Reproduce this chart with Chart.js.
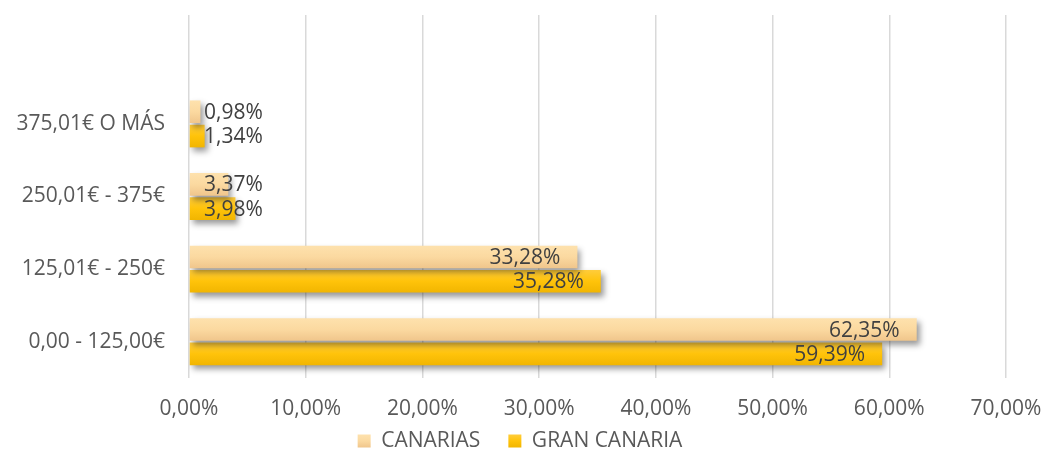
<!DOCTYPE html>
<html><head><meta charset="utf-8">
<script src="https://cdn.jsdelivr.net/npm/chart.js@4/dist/chart.umd.min.js"></script>
<style>html,body{margin:0;padding:0;background:#fff}#wrap{width:1045px;height:453px}</style>
</head><body><div id="wrap"><canvas id="c" width="1045" height="453"></canvas></div>
<script>
const categories = ['', '375,01€ O MÁS', '250,01€ - 375€', '125,01€ - 250€', '0,00 - 125,00€'];
const seriesNames = ['CANARIAS', 'GRAN CANARIA'];
const canarias = [null, 0.98, 3.37, 33.28, 62.35];
const granCanaria = [null, 1.34, 3.98, 35.28, 59.39];
const xMax = 70;
const xStep = 10;

const FONT = '"Open Sans", sans-serif';
const FS = 21;
const CAT_PCT = 0.67;
const stopsA = ['#FEE2AE', '#FBD9A0', '#EFC48A'];
const stopsB = ['#FFCD40', '#FFC30A', '#F0B400'];

function fmt(v){ return v.toFixed(2).replace('.', ',') + '%'; }

function mkGrad(ctx, stops, top, bot){
  const g = ctx.createLinearGradient(0, top, 0, bot);
  g.addColorStop(0, stops[0]); g.addColorStop(0.5, stops[1]); g.addColorStop(1, stops[2]);
  return g;
}

function grad(stops, side){
  return function(ctx){
    const chart = ctx.chart;
    if (ctx.type !== 'data' || !chart.chartArea || !chart.scales.y) return stops[1];
    const y = chart.scales.y;
    const c = y.getPixelForValue(ctx.dataIndex);
    const w = (y.height / categories.length) * CAT_PCT / 2;
    const top = side === 0 ? c - w : c;
    const bot = side === 0 ? c : c + w;
    return mkGrad(chart.ctx, stops, top, bot);
  };
}

const shadowPlugin = {
  id: 'shadow',
  beforeDatasetDraw(chart){ const c = chart.ctx; c.save(); c.shadowColor = 'rgba(0,0,0,0.4)'; c.shadowBlur = 6; c.shadowOffsetX = 3; c.shadowOffsetY = 4; },
  afterDatasetDraw(chart){ chart.ctx.restore(); }
};

const legendSize = {
  id: 'legendSize',
  beforeLayout(chart){
    const lg = chart.legend;
    if (lg && !lg._patched){
      const f = lg.fit.bind(lg);
      lg.fit = function(){ f(); this.height = 31; };
      const d = lg.draw.bind(lg);
      lg.draw = function(a){
        const t = this.top, l = this.left, r = this.right;
        this.top = t - 19.5; this.left = l + 17; this.right = r + 17;
        d(a);
        this.top = t; this.left = l; this.right = r;
      };
      lg._patched = true;
    }
  }
};

const labelPlugin = {
  id: 'vlabels',
  afterDatasetsDraw(chart){
    const c = chart.ctx; const xs = chart.scales.x;
    c.save();
    c.font = FS + 'px ' + FONT; c.fillStyle = '#404040'; c.textAlign = 'right'; c.textBaseline = 'middle';
    chart.data.datasets.forEach((ds, di) => {
      const meta = chart.getDatasetMeta(di);
      meta.data.forEach((el, i) => {
        const v = ds.data[i]; if (v == null) return;
        const t = fmt(v); const tw = c.measureText(t).width;
        const right = Math.max(el.x - 17, xs.left + 15 + tw);
        c.fillText(t, right, el.y + 1);
      });
    });
    c.restore();
  }
};

new Chart(document.getElementById('c'), {
  type: 'bar',
  data: {
    labels: categories,
    datasets: [
      { label: seriesNames[0], data: canarias, backgroundColor: grad(stopsA, 0), categoryPercentage: CAT_PCT, barPercentage: 0.93 },
      { label: seriesNames[1], data: granCanaria, backgroundColor: grad(stopsB, 1), categoryPercentage: CAT_PCT, barPercentage: 0.93 }
    ]
  },
  options: {
    indexAxis: 'y', responsive: false, animation: false,
    layout: { padding: { top: 15, right: 39, left: 0, bottom: 0 } },
    plugins: {
      tooltip: { enabled: false },
      legend: {
        position: 'bottom',
        labels: {
          font: { family: FONT, size: FS }, color: '#595959', boxWidth: 13, boxHeight: 13, padding: 28,
          generateLabels: (chart) => seriesNames.map((n, i) => ({
            text: n,
            fillStyle: mkGrad(chart.ctx, [stopsA, stopsB][i], 434, 448),
            strokeStyle: 'rgba(0,0,0,0)', lineWidth: 0, datasetIndex: i, fontColor: '#595959'
          }))
        }
      }
    },
    scales: {
      x: {
        min: 0, max: xMax,
        ticks: { stepSize: xStep, callback: v => fmt(v), font: { family: FONT, size: FS }, color: '#595959', padding: 18.4 },
        grid: { color: '#D9D9D9', lineWidth: 1.5, drawTicks: false },
        border: { display: false },
        afterFit: s => { s.height = 44; s.paddingLeft = 0; s.paddingRight = 0; }
      },
      y: {
        ticks: { font: { family: FONT, size: FS }, color: '#595959', padding: 24 },
        grid: { display: false, drawTicks: false },
        border: { display: false },
        afterFit: s => { s.width = 189; s.paddingTop = 0; s.paddingBottom = 0; }
      }
    }
  },
  plugins: [legendSize, shadowPlugin, labelPlugin]
});
</script></body></html>
